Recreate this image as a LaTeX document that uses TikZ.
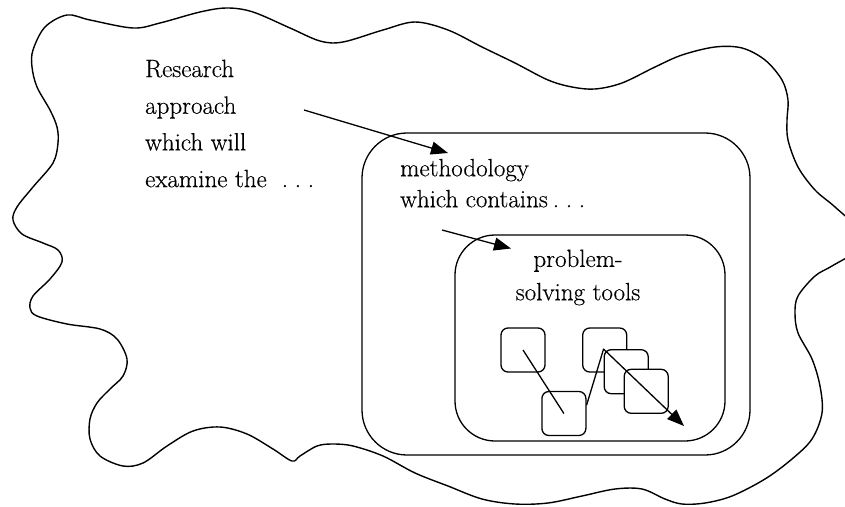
\documentclass[tikz,border=0pt]{standalone}
\usepackage{fontspec}
\setmainfont{Latin Modern Roman}[FakeBold=0.35]
\usetikzlibrary{arrows.meta}
\newcommand{\spaceddots}{.\hspace{0.27em}.\hspace{0.27em}.}
\begin{document}
\begin{tikzpicture}[x=1pt,y=-1pt,
  outline/.style={line width=1.4pt, line join=round},
  frame/.style={draw, line width=1.3pt, rounded corners=#1, inner sep=0pt},
  tile/.style={draw, fill=white, line width=1.3pt, rounded corners=7pt,
    minimum width=44pt, minimum height=44pt, inner sep=0pt},
  link/.style={line width=1.3pt, line join=round,
    -{Triangle[length=17pt,width=13pt]}},
  plain/.style={line width=1.3pt, line join=round},
  words/.style={inner sep=0pt, font=\fontsize{25}{#1}\selectfont}
]
\useasboundingbox (0,0) rectangle (845,506);
\clip (0,0) rectangle (845,506);

% the wavy outer region
\draw[outline] plot[smooth cycle, tension=0.55] coordinates {
  (33,50) (45,27) (67,15) (90,20) (133,28) (160,23) (200,12) (227,8)
  (253,12) (290,28) (320,41) (343,42) (383,30) (415,22) (448,30)
  (482,47) (515,63) (548,80) (572,87) (595,89) (622,83) (655,67)
  (682,55) (715,47) (742,48) (765,60) (782,80) (788,100) (787,120)
  (788,140) (798,167) (815,190) (835,207) (856,228) (856,250) (832,266)
  (815,276) (798,296) (795,313) (798,333) (812,359) (820,386) (822,413)
  (812,439) (792,459) (765,479) (732,496) (705,503) (682,504) (665,499)
  (642,489) (615,489) (582,496) (548,503) (515,504) (482,499) (448,486)
  (415,473) (383,456) (353,446) (333,444) (317,446) (300,456) (292,461)
  (273,449) (247,434) (220,427) (193,431) (167,446) (143,463) (123,466)
  (100,456) (90,439) (90,419) (97,403) (110,389) (123,376) (127,359)
  (117,339) (100,329) (67,324) (37,316) (30,308) (33,296) (50,279)
  (62,262) (58,250) (43,243) (22,234) (13,220) (17,207) (33,187)
  (53,163) (58,143) (57,127) (50,110) (37,87) (32,67)};

% nested frames
\node[frame=45pt, minimum width=388pt, minimum height=322pt] (method) at (556,294) {};
\node[frame=40pt, minimum width=270pt, minimum height=206pt] (tools) at (590,338) {};

% texts
\node[words=36.7, anchor=north west, align=left] (research) at (145,59.5)
  {Research\\approach\\which will\\examine the\hspace{0.6em}\spaceddots};
\node[words=31, anchor=north west, align=left] (methodtext) at (400,158.7)
  {methodology\\which contains\hspace{0.2em}\spaceddots};
\node[words=33.3, anchor=north, align=center] (toolstext) at (578,249.4)
  {problem-\\solving tools};

% connectors between the levels
\coordinate (fromResearch) at (304,110);
\coordinate (toMethod) at (448,153);
\coordinate (fromMethod) at (442,230);
\coordinate (toTools) at (511,248.5);
\draw[link] (fromResearch) -- (toMethod);
\draw[link] (fromMethod) -- (toTools);

% small tool boxes
\node[tile] (c) at (604.7,350) {};
\node[tile] (d) at (626.2,371.7) {};
\node[tile] (e) at (646.2,391.3) {};
\node[tile] (a) at (523,350) {};
\node[tile] (b) at (563.9,413.5) {};
\coordinate (toolEnd) at (684,426);

\draw[plain] (a.center) -- (b.center);
\draw[link] (b.20) -- (d.north west) -- (toolEnd);
\end{tikzpicture}
\end{document}
